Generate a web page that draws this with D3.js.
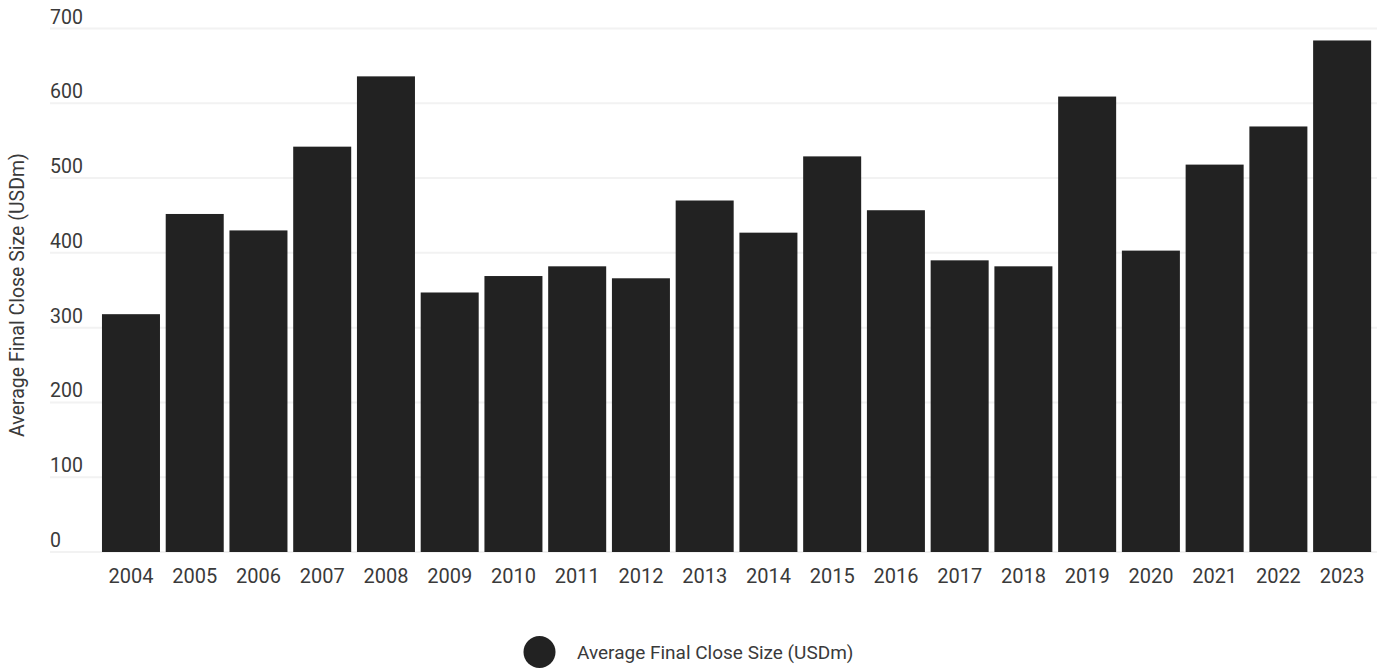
<!DOCTYPE html>
<html>
<head>
<meta charset="utf-8">
<script src="https://cdn.jsdelivr.net/npm/d3@7"></script>
<style>
  html, body { margin: 0; padding: 0; background: #fff; }
  svg { display: block; font-family: Roboto, "Noto Sans", sans-serif; }
</style>
</head>
<body>
<svg id="chart" width="1379" height="668"></svg>
<script>
const years = ["2004","2005","2006","2007","2008","2009","2010","2011","2012","2013","2014","2015","2016","2017","2018","2019","2020","2021","2022","2023"];
const avgCloseSize = [318, 452, 430, 542, 636, 347, 369, 382, 366, 470, 427, 529, 457, 390, 382, 609, 403, 518, 569, 684];
const yTicks = [0, 100, 200, 300, 400, 500, 600, 700];
const seriesName = "Average Final Close Size (USDm)";
const axisTitle = "Average Final Close Size (USDm)";

const svg = d3.select("#chart");
const textColor = "#3a3a3a";
const barColor = "#222222";

const x = d3.scaleBand().domain(years).range([99.1, 1374]).paddingInner(0.09).paddingOuter(0.045);
const y = d3.scaleLinear().domain([0, 700]).range([552, 28.5]);

// gridlines
const grid = svg.append("g");
grid.selectAll("line").data(yTicks).join("line")
  .attr("x1", 50).attr("x2", 1377)
  .attr("y1", d => y(d)).attr("y2", d => y(d))
  .attr("stroke", "#f2f2f2").attr("stroke-width", 2);

// y tick labels
svg.append("g").selectAll("text").data(yTicks).join("text")
  .attr("x", 50).attr("y", d => y(d) - 5)
  .attr("fill", textColor).attr("font-size", 19.5)
  .text(d => d);

// bars
svg.append("g").selectAll("rect").data(years).join("rect")
  .attr("x", d => x(d))
  .attr("width", x.bandwidth())
  .attr("y", (d, i) => y(avgCloseSize[i]))
  .attr("height", (d, i) => y(0) - y(avgCloseSize[i]))
  .attr("fill", barColor);

// x axis labels
const xAxis = d3.axisBottom(x).tickSize(0).tickPadding(0);
const xg = svg.append("g").attr("transform", "translate(0,582.5)").call(xAxis);
xg.select(".domain").remove();
xg.selectAll("text").attr("font-size", 20).attr("fill", textColor)
  .attr("font-family", "Roboto, 'Noto Sans', sans-serif").attr("dy", 0);

// y axis title
svg.append("text")
  .attr("transform", "translate(24,295) rotate(-90)")
  .attr("text-anchor", "middle")
  .attr("fill", textColor).attr("font-size", 19.5)
  .text(axisTitle);

// legend
const lg = svg.append("g");
lg.append("circle").attr("cx", 539.5).attr("cy", 652).attr("r", 16).attr("fill", barColor);
lg.append("text").attr("x", 577).attr("y", 652).attr("dy", "0.35em")
  .attr("fill", textColor).attr("font-size", 19).text(seriesName);
</script>
</body>
</html>
